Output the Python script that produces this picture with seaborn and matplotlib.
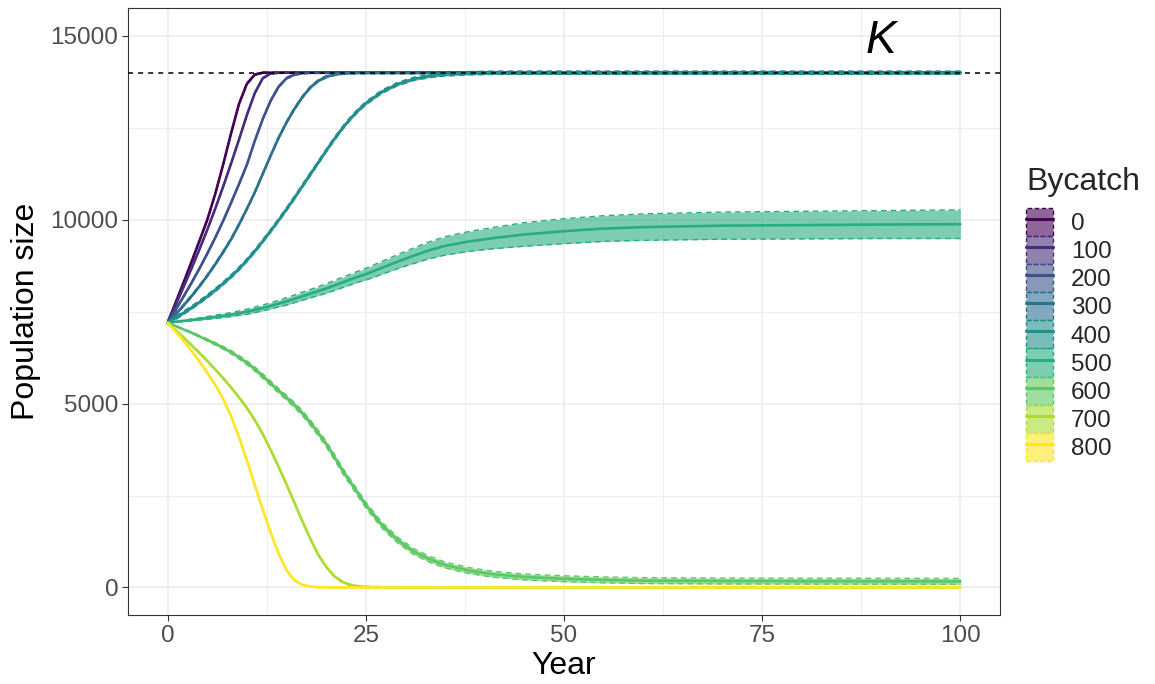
import numpy as np
import pandas as pd
import matplotlib
matplotlib.use("Agg")
import matplotlib.pyplot as plt
import seaborn as sns
from matplotlib.patches import Patch
from matplotlib.lines import Line2D
from matplotlib.legend_handler import HandlerTuple
from matplotlib.ticker import MultipleLocator

# ---------------- data ----------------
bycatch_levels = [0, 100, 200, 300, 400, 500, 600, 700, 800]
K = 14000

yrs_0 = [0, 1, 2, 3, 4, 5, 6, 7, 8, 9, 10, 11, 12, 100]
pop_0 = [7200, 7740, 8290, 8850, 9420, 10000, 10700, 11500, 12350, 13150,
         13700, 13950, 14000, 14000]

yrs_100 = [0, 1, 2, 3, 4, 5, 6, 7, 8, 9, 10, 11, 12, 13, 14, 100]
pop_100 = [7200, 7680, 8170, 8670, 9190, 9730, 10300, 10900, 11530, 12180,
           12850, 13450, 13850, 13980, 14000, 14000]

yrs_200 = [0, 1, 2, 3, 4, 5, 6, 7, 8, 9, 10, 11, 12, 13, 14, 15, 16, 17, 18, 100]
pop_200 = [7200, 7550, 7910, 8280, 8670, 9080, 9510, 9970, 10460, 10970,
           11500, 12150, 12740, 13240, 13620, 13850, 13950, 13990, 14000, 14000]

yrs_300 = [0, 1, 2, 3, 4, 5, 6, 7, 8, 9, 10, 11, 12, 13, 14, 15, 16, 17, 18,
           19, 20, 21, 22, 23, 24, 100]
pop_300 = [7200, 7430, 7670, 7920, 8190, 8480, 8790, 9120, 9470, 9870, 10300,
           10750, 11250, 11750, 12230, 12650, 13020, 13340, 13600, 13780, 13890,
           13950, 13980, 13995, 14000, 14000]

yrs_400 = [0, 1, 2, 3, 4, 5, 6, 7, 8, 9, 10, 11, 12, 13, 14, 15, 16, 17, 18,
           19, 20, 21, 22, 23, 24, 25, 27, 29, 31, 33, 35, 38, 41, 45, 100]
pop_400 = [7200, 7330, 7470, 7610, 7760, 7920, 8090, 8270, 8460, 8670, 8900,
           9150, 9420, 9700, 9990, 10290, 10600, 10920, 11240, 11560, 11880,
           12190, 12480, 12740, 12970, 13170, 13480, 13690, 13830, 13910, 13955,
           13985, 13998, 14000, 14000]

yrs_full = [0, 1, 2, 3, 4, 5, 6, 7, 8, 9, 10, 11, 12, 13, 14, 15, 16, 17, 18,
            19, 20, 21, 22, 23, 24, 25, 27, 29, 31, 33, 35, 38, 41, 45, 50, 55,
            60, 70, 80, 90, 100]
pop_500 = [7200, 7225, 7250, 7275, 7300, 7330, 7360, 7390, 7420, 7460, 7500,
           7550, 7600, 7660, 7720, 7780, 7850, 7920, 7990, 8060, 8130, 8210,
           8290, 8370, 8450, 8520, 8690, 8860, 9020, 9170, 9290, 9410, 9500,
           9600, 9690, 9760, 9800, 9840, 9855, 9870, 9880]
spread_500 = [0, 10, 20, 25, 30, 40, 45, 50, 55, 60, 70, 75, 80, 85, 90, 100,
              105, 110, 115, 120, 130, 135, 140, 145, 150, 160, 175, 190, 210,
              230, 250, 270, 290, 320, 340, 350, 360, 370, 375, 380, 390]

pop_600 = [7200, 7110, 7020, 6930, 6830, 6730, 6630, 6520, 6400, 6260, 6110,
           5940, 5750, 5550, 5350, 5160, 4960, 4740, 4480, 4200, 3900, 3560,
           3200, 2880, 2560, 2240, 1700, 1290, 980, 770, 610, 460, 360, 285,
           236, 205, 185, 175, 170, 168, 165]
spread_600 = [0, 10, 15, 20, 25, 30, 35, 40, 45, 50, 55, 58, 60, 62, 64, 66,
              68, 70, 72, 74, 75, 76, 77, 78, 79, 80, 80, 80, 80, 80, 80, 80,
              80, 80, 80, 80, 80, 80, 80, 80, 80]

yrs_700 = [0, 1, 2, 3, 4, 5, 6, 7, 8, 9, 10, 11, 12, 13, 14, 15, 16, 17, 18,
           19, 20, 21, 22, 23, 24, 25, 27, 29, 100]
pop_700 = [7200, 7000, 6800, 6590, 6380, 6160, 5930, 5690, 5440, 5170, 4880,
           4550, 4170, 3740, 3280, 2800, 2300, 1800, 1320, 890, 560, 310, 155,
           70, 30, 12, 3, 0, 0]

yrs_800 = [0, 1, 2, 3, 4, 5, 6, 7, 8, 9, 10, 11, 12, 13, 14, 15, 16, 17, 18,
           19, 20, 100]
pop_800 = [7200, 6960, 6710, 6440, 6150, 5840, 5510, 5130, 4660, 4090, 3450,
           2780, 2120, 1490, 920, 470, 190, 70, 22, 6, 0, 0]

# constant ribbon half-widths for the narrow ribbons
small_spread = {0: 15, 100: 15, 200: 20, 300: 30, 400: 45, 700: 20, 800: 10}

viridis_hex = ["#440154", "#472D7B", "#3B528B", "#2C728E", "#21908C",
               "#27AD81", "#5DC863", "#AADC32", "#FDE725"]

# ---------------- assemble ----------------
series = {
    0: (yrs_0, pop_0), 100: (yrs_100, pop_100), 200: (yrs_200, pop_200),
    300: (yrs_300, pop_300), 400: (yrs_400, pop_400),
    500: (yrs_full, pop_500), 600: (yrs_full, pop_600),
    700: (yrs_700, pop_700), 800: (yrs_800, pop_800),
}
frames = []
for b in bycatch_levels:
    y_, p_ = series[b]
    frames.append(pd.DataFrame({"Year": y_, "Population": p_, "Bycatch": b}))
df = pd.concat(frames, ignore_index=True)
pal = dict(zip(bycatch_levels, viridis_hex))

sns.set_theme(style="white")
plt.rcParams['font.family'] = ['Liberation Sans', 'DejaVu Sans']

fig = plt.figure(figsize=(11.55, 6.84), dpi=100)
ax = fig.add_axes([128 / 1155, 1 - 615 / 684, 872 / 1155, 607 / 684])

# ribbons
for b in bycatch_levels:
    y_, p_ = series[b]
    p_ = np.asarray(p_, float)
    if b == 500:
        s = np.asarray(spread_500, float)
    elif b == 600:
        s = np.asarray(spread_600, float)
    else:
        s = np.full_like(p_, small_spread[b])
    lo = np.clip(p_ - s, 0, None)
    hi = p_ + s
    c = pal[b]
    ax.fill_between(y_, lo, hi, facecolor=c, alpha=0.6, lw=0, zorder=2)
    for edge in (lo, hi):
        ax.plot(y_, edge, color=c, lw=1.0, ls=(0, (4, 3)), zorder=2.5)

sns.lineplot(data=df, x="Year", y="Population", hue="Bycatch",
             hue_order=bycatch_levels, palette=pal, linewidth=1.9,
             estimator=None, legend=False, ax=ax, zorder=3)

ax.axhline(K, color="black", lw=1.1, ls=(0, (3.3, 3.3)), zorder=4)
ax.text(90, 14530, "K", style="italic", fontsize=33, ha="center",
        va="baseline", color="black", zorder=5)

ax.set_xlim(-5, 105)
ax.set_ylim(-750, 15760)
ax.set_xticks([0, 25, 50, 75, 100])
ax.set_yticks([0, 5000, 10000, 15000])
ax.xaxis.set_minor_locator(MultipleLocator(12.5))
ax.yaxis.set_minor_locator(MultipleLocator(2500))
ax.grid(True, which="major", color="#EBEBEB", lw=1.1, zorder=0)
ax.grid(True, which="minor", color="#EBEBEB", lw=0.6, zorder=0)
ax.set_axisbelow(True)
ax.tick_params(which="major", length=4, width=0.8, color="#333333",
               labelsize=17.5, labelcolor="#4D4D4D", pad=3,
               bottom=True, left=True)
ax.tick_params(which="minor", length=0)
for sp in ax.spines.values():
    sp.set_color("#333333")
    sp.set_linewidth(0.8)

ax.set_xlabel("Year", fontsize=23, color="black", labelpad=3)
ax.set_ylabel("Population size", fontsize=23, color="black", labelpad=7)

handles = []
for b in bycatch_levels:
    c = pal[b]
    rgba = matplotlib.colors.to_rgba(c, 0.6)
    patch = Patch(facecolor=rgba, edgecolor=c, linestyle=(0, (3, 2)), lw=1.0)
    line = Line2D([], [], color=c, lw=2.2)
    handles.append((patch, line))
leg = fig.legend(handles, [str(b) for b in bycatch_levels],
                 handler_map={tuple: HandlerTuple(ndivide=1, pad=0)},
                 loc="upper left", bbox_to_anchor=(1026 / 1155, 1 - 167 / 684),
                 frameon=False, fontsize=17.5, title="Bycatch",
                 title_fontsize=23, alignment="left", handlelength=1.11,
                 handleheight=1.4, labelspacing=0.0, handletextpad=0.74,
                 borderpad=0.0, borderaxespad=0.0)
leg._legend_box.sep = 8

fig.savefig("out.png", dpi=100)
